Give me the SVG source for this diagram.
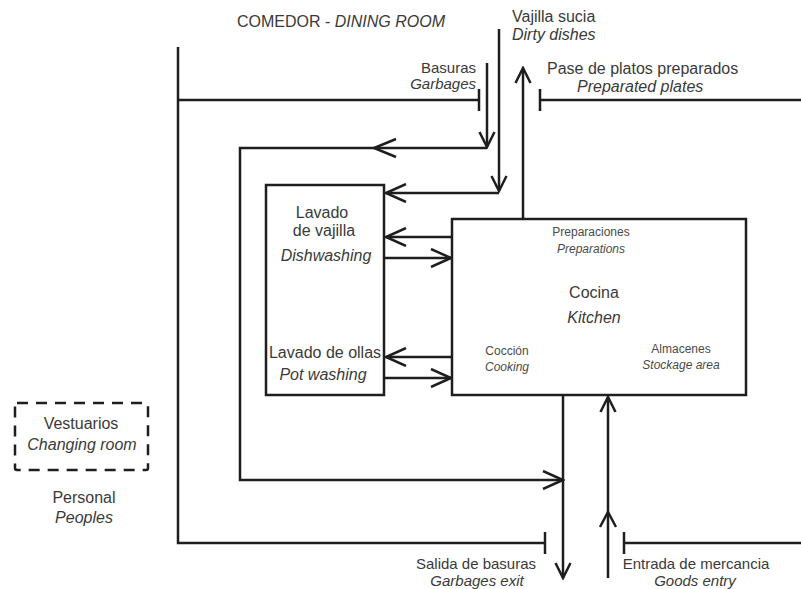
<svg xmlns="http://www.w3.org/2000/svg" width="801" height="589" viewBox="0 0 801 589">
<style>
text{font-family:"Liberation Sans",Arial,sans-serif;fill:#3a3a3a;font-size:16px}
.it{font-style:italic}
.sm{font-size:12px;fill:#4a4a4a}
.c{text-anchor:middle}
.e{text-anchor:end}
.b15{font-size:15px}
.ln{fill:none;stroke:#1e1e1e;stroke-width:2.5}
.box{fill:#fff;stroke:#1e1e1e;stroke-width:2.5}
.dash{fill:none;stroke:#1e1e1e;stroke-width:2.5;stroke-dasharray:11 8}
.h{marker-end:url(#ah)}
.v{marker-end:url(#av)}
</style>
<defs>
<marker id="ah" markerUnits="userSpaceOnUse" viewBox="0 0 24 20" markerWidth="24" markerHeight="20" refX="22" refY="10" orient="auto">
<path d="M2,1 L22,10 L2,19" fill="none" stroke="#1e1e1e" stroke-width="2.5"/>
</marker>
<marker id="av" markerUnits="userSpaceOnUse" viewBox="0 0 18 18" markerWidth="18" markerHeight="18" refX="16" refY="9" orient="auto">
<path d="M1,1.5 L16,9 L1,16.5" fill="none" stroke="#1e1e1e" stroke-width="2.5"/>
</marker>
</defs>
<rect width="801" height="589" fill="#fff"/>

<g id="connectors">
<path class="ln" d="M178,47 V543 H545"/>
<path class="ln" d="M178,100 H479 M479,89 V111"/>
<path class="ln" d="M540,89 V111 M540,100 H801"/>
<path class="ln" d="M545,532 V554"/>
<path class="ln" d="M624,532 V554 M624,543 H801"/>
<path class="ln v" d="M487,63 V147"/>
<path class="ln h" d="M487,148 H240 V480 H563"/>
<path class="ln" d="M396,139 L374,148 L396,157"/>
<path class="ln v" d="M499,29 V191"/>
<path class="ln h" d="M499,193 H386"/>
<path class="ln v" d="M523,219 V68"/>
<path class="ln h" d="M452,237 H386"/>
<path class="ln h" d="M384,258 H451"/>
<path class="ln h" d="M452,357 H386"/>
<path class="ln h" d="M384,378 H451"/>
<path class="ln v" d="M563,395 V578"/>
<path class="ln v" d="M608,578 V397"/>
<path class="ln" d="M600,527 L608,512 L616,527"/>
</g>

<g id="dining">
<text x="237" y="27">COMEDOR - <tspan class="it">DINING ROOM</tspan></text>
</g>
<g id="garbage-in">
<text class="e b15" x="476" y="73">Basuras</text>
<text class="e it b15" x="476" y="89">Garbages</text>
</g>
<g id="dirty-dishes">
<text x="512" y="22">Vajilla sucia</text>
<text class="it" x="512" y="40">Dirty dishes</text>
</g>
<g id="plates">
<text x="547" y="74">Pase de platos preparados</text>
<text class="it" x="577" y="92">Preparated plates</text>
</g>
<g id="washing">
<rect class="box" x="266" y="185" width="118" height="210"/>
<text class="c" x="322" y="218">Lavado</text>
<text class="c" x="324" y="236">de vajilla</text>
<text class="c it" x="326" y="261">Dishwashing</text>
<text class="c" x="325" y="358">Lavado de ollas</text>
<text class="c it" x="323" y="380">Pot washing</text>
</g>
<g id="kitchen">
<rect class="box" x="452" y="219" width="294" height="176"/>
<text class="c sm" x="591" y="236">Preparaciones</text>
<text class="c sm it" x="591" y="253">Preparations</text>
<text class="c" x="594" y="298">Cocina</text>
<text class="c it" x="594" y="323">Kitchen</text>
<text class="c sm" x="507" y="355">Cocción</text>
<text class="c sm it" x="507" y="371">Cooking</text>
<text class="c sm" x="681" y="353">Almacenes</text>
<text class="c sm it" x="681" y="369">Stockage area</text>
</g>
<g id="changing">
<rect class="dash" x="15" y="403" width="133" height="67" rx="2"/>
<text class="c" x="81" y="429">Vestuarios</text>
<text class="c it" x="82" y="450">Changing room</text>
</g>
<g id="staff">
<text class="c" x="84" y="503">Personal</text>
<text class="c it" x="84" y="523">Peoples</text>
</g>
<g id="garbage-exit">
<text class="c b15" x="476" y="569">Salida de basuras</text>
<text class="c it b15" x="477" y="586">Garbages exit</text>
</g>
<g id="goods">
<text class="c b15" x="696" y="569">Entrada de mercancia</text>
<text class="c it b15" x="695" y="586">Goods entry</text>
</g>
</svg>
